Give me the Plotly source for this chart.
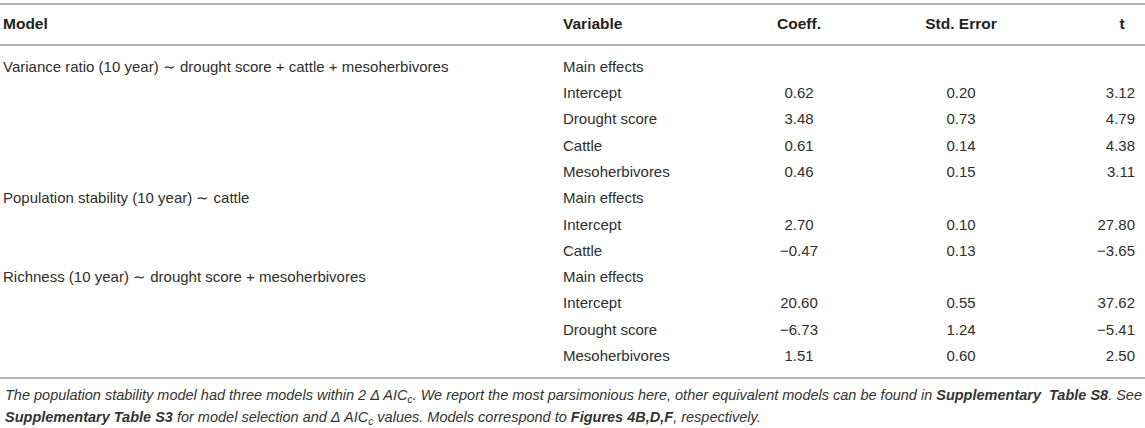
import plotly.graph_objects as go

# table content
models = [
    "Variance ratio (10 year) ∼ drought score + cattle + mesoherbivores",
    "", "", "", "",
    "Population stability (10 year) ∼ cattle",
    "", "",
    "Richness (10 year) ∼ drought score + mesoherbivores",
    "", "", "",
]
variables = [
    "Main effects", "Intercept", "Drought score", "Cattle", "Mesoherbivores",
    "Main effects", "Intercept", "Cattle",
    "Main effects", "Intercept", "Drought score", "Mesoherbivores",
]
coeff = ["", "0.62", "3.48", "0.61", "0.46", "", "2.70", "−0.47", "", "20.60", "−6.73", "1.51"]
std_error = ["", "0.20", "0.73", "0.14", "0.15", "", "0.10", "0.13", "", "0.55", "1.24", "0.60"]
t_values = ["", "3.12", "4.79", "4.38", "3.11", "", "27.80", "−3.65", "", "37.62", "−5.41", "2.50"]
headers = ["Model", "Variable", "Coeff.", "Std. Error", "t"]

footnote_1 = ("The population stability model had three models within 2 Δ AIC<sub>c</sub>. "
              "We report the most parsimonious here, other equivalent models can be found in "
              "<b>Supplementary  Table S8</b>. See")
footnote_2 = ("<b>Supplementary Table S3</b> for model selection and Δ AIC<sub>c</sub> values. "
              "Models correspond to <b>Figures 4B,D,F</b>, respectively.")

FONT = "Liberation Sans, Arial, Helvetica, sans-serif"
TEXT = "#2e2e2e"
RULE = "#b4b4b4"

# column x positions (pixels) and row geometry
X_MODEL, X_VAR, X_COEFF, X_SE, X_T = 3, 563, 799, 961, 1135
X_T_HEAD = 1122
ROW0, ROW_H = 68, 26.3

rows = list(range(len(variables)))


def row_y(i):
    return ROW0 + ROW_H * i


def cells(values):
    # keep only the filled cells of a column
    idx = [i for i in rows if values[i]]
    return [row_y(i) for i in idx], [values[i] for i in idx]


fig = go.Figure()

for x, values, pos in ((X_MODEL, models, "middle right"),
                       (X_VAR, variables, "middle right"),
                       (X_COEFF, coeff, "middle center"),
                       (X_SE, std_error, "middle center"),
                       (X_T, t_values, "middle left")):
    ys, txt = cells(values)
    fig.add_trace(go.Scatter(x=[x] * len(ys), y=ys, text=txt,
                             mode="text", textposition=pos,
                             textfont=dict(family=FONT, size=15, color=TEXT)))

# header
head_y = 25
fig.add_trace(go.Scatter(
    x=[X_MODEL, X_VAR, X_COEFF, X_SE, X_T_HEAD], y=[head_y] * 5,
    text=["<b>%s</b>" % h for h in headers], mode="text",
    textposition=["middle right", "middle right", "middle center", "middle center", "middle center"],
    textfont=dict(family=FONT, size=15.5, color="#222222"),
))

fig.update_traces(hoverinfo="skip", showlegend=False)

# rules
for y in (4, 45, 378):
    fig.add_shape(type="line", x0=0, x1=1145, y0=y, y1=y, xref="x", yref="y",
                  line=dict(color=RULE, width=2))

for y, txt in ((396, footnote_1), (418, footnote_2)):
    fig.add_annotation(x=3, y=y, xref="x", yref="y", text="<i>%s</i>" % txt,
                       showarrow=False, xanchor="left", yanchor="middle",
                       font=dict(family=FONT, size=14.5, color="#333333"))

fig.update_layout(
    width=1145, height=428,
    margin=dict(l=0, r=0, t=0, b=0),
    paper_bgcolor="white", plot_bgcolor="white",
    xaxis=dict(range=[0, 1145], visible=False, fixedrange=True),
    yaxis=dict(range=[428, 0], visible=False, fixedrange=True),
)

fig.write_html("out.html", config={"displayModeBar": False, "staticPlot": True},
               post_script="document.body.style.margin='0px';")
